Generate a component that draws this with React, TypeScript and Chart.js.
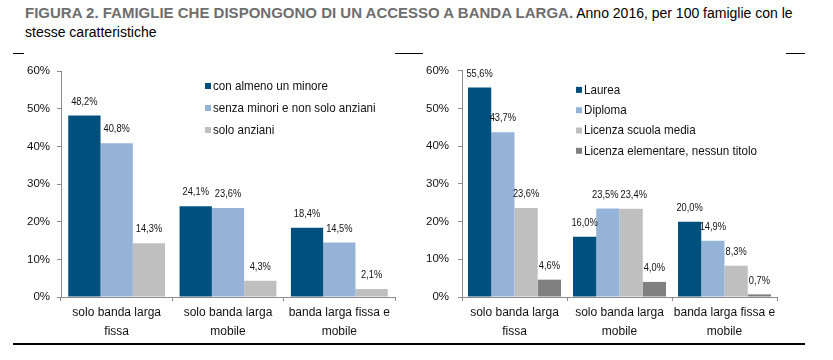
import React, { useEffect, useRef } from "react";
import { Chart, registerables } from "chart.js";

Chart.register(...registerables);

// ---------- DATA ----------
const categories: string[][] = [
  ["solo banda larga", "fissa"],
  ["solo banda larga", "mobile"],
  ["banda larga fissa e", "mobile"],
];

const leftSeriesNames = ["con almeno un minore", "senza minori e non solo anziani", "solo anziani"];
const leftMinore = [48.2, 24.1, 18.4];
const leftSenzaMinori = [40.8, 23.6, 14.5];
const leftSoloAnziani = [14.3, 4.3, 2.1];

const rightSeriesNames = ["Laurea", "Diploma", "Licenza scuola media", "Licenza elementare, nessun titolo"];
const rightLaurea = [55.6, 16.0, 20.0];
const rightDiploma = [43.7, 23.5, 14.9];
const rightMedia = [23.6, 23.4, 8.3];
const rightElementare = [4.6, 4.0, 0.7];

const yTicks = [0, 10, 20, 30, 40, 50, 60];

const COLORS = ["#00507D", "#95B3D7", "#BFBFBF", "#808080"];
const FONT = "'Liberation Sans', Arial, sans-serif";
const AXIS = "#8C8C8C";
const TEXT = "#111";

const fmt = (v: number) => v.toFixed(1).replace(".", ",") + "%";

// draw horizontally condensed text (reference uses a narrow face)
function narrowText(ctx: any, text: string, x: number, y: number, sx: number) {
  ctx.save();
  ctx.translate(x, y);
  ctx.scale(sx, 1);
  ctx.fillText(text, 0, 0);
  ctx.restore();
}

const LABEL_SX = 0.81;

const valueLabels = {
  id: "valueLabels",
  afterDatasetsDraw(chart: any) {
    const ctx = chart.ctx;
    ctx.save();
    ctx.font = `11.5px ${FONT}`;
    ctx.fillStyle = TEXT;
    ctx.textAlign = "center";
    ctx.textBaseline = "middle";
    const nCat = chart.data.labels.length;
    for (let j = 0; j < nCat; j++) {
      // collect labels of one category, then separate the ones that collide
      const items: { text: string; x: number; y: number; w: number }[] = [];
      chart.data.datasets.forEach((ds: any, i: number) => {
        const el = chart.getDatasetMeta(i).data[j];
        const text = fmt(ds.data[j]);
        items.push({ text, x: el.x, y: el.y - 14, w: ctx.measureText(text).width * LABEL_SX });
      });
      for (let k = 0; k < items.length - 1; k++) {
        const a = items[k];
        const b = items[k + 1];
        if (Math.abs(a.y - b.y) < 11) {
          const need = (a.w + b.w) / 2 + 2 - (b.x - a.x);
          if (need > 0) {
            a.x -= need / 2;
            b.x += need / 2;
          }
        }
      }
      items.forEach((it) => narrowText(ctx, it.text, it.x, it.y, LABEL_SX));
    }
    ctx.restore();
  },
};

const innerLegend = {
  id: "innerLegend",
  afterDraw(chart: any, _args: any, opts: any) {
    const ctx = chart.ctx;
    const area = chart.chartArea;
    ctx.save();
    ctx.font = `13.5px ${FONT}`;
    ctx.textBaseline = "middle";
    ctx.textAlign = "left";
    chart.data.datasets.forEach((ds: any, i: number) => {
      const x = area.left + opts.dx;
      const y = area.top + opts.dy + i * opts.step;
      ctx.fillStyle = ds.backgroundColor;
      ctx.fillRect(x, y - 3, 6, 6);
      ctx.fillStyle = TEXT;
      narrowText(ctx, ds.label, x + 8, y, 0.86);
    });
    ctx.restore();
  },
};

function makeConfig(
  names: string[],
  series: number[][],
  yWidth: number,
  pad: { top: number; right: number },
  tickPad: number,
  catPct: number,
  legend: { dx: number; dy: number; step: number }
): any {
  return {
    type: "bar",
    data: {
      labels: categories,
      datasets: series.map((d, i) => ({
        label: names[i],
        data: d,
        backgroundColor: COLORS[i],
        borderWidth: 0,
        categoryPercentage: catPct,
        barPercentage: 1,
      })),
    },
    options: {
      animation: false,
      responsive: false,
      maintainAspectRatio: false,
      layout: { padding: { left: 0, right: pad.right, top: pad.top, bottom: 0 } },
      plugins: {
        legend: { display: false },
        tooltip: { enabled: false },
        innerLegend: legend,
      },
      scales: {
        x: {
          grid: { drawOnChartArea: false, drawTicks: true, tickLength: 4, color: AXIS, offset: true },
          border: { display: true, color: AXIS, width: 1 },
          ticks: {
            color: TEXT,
            padding: 2.5,
            maxRotation: 0,
            autoSkip: false,
            font: { family: FONT, size: 12, lineHeight: 1.58 },
          },
          afterFit: (s: any) => {
            s.height = 48;
          },
        },
        y: {
          min: 0,
          max: 60,
          afterBuildTicks: (s: any) => {
            s.ticks = yTicks.map((v) => ({ value: v }));
          },
          grid: { drawOnChartArea: false, drawTicks: true, tickLength: 4, color: AXIS },
          border: { display: true, color: AXIS, width: 1 },
          ticks: {
            color: TEXT,
            padding: tickPad,
            font: { family: FONT, size: 11.5 },
            callback: (v: any) => v + "%",
          },
          afterFit: (s: any) => {
            s.width = yWidth;
          },
        },
      },
    },
    plugins: [valueLabels, innerLegend],
  };
}

function BarChart({ config, style }: { config: any; style: React.CSSProperties }) {
  const ref = useRef<HTMLCanvasElement | null>(null);
  useEffect(() => {
    if (!ref.current) return;
    const c = new Chart(ref.current, config);
    return () => c.destroy();
  }, []);
  return <canvas ref={ref} width={style.width as number} height={style.height as number} style={style} />;
}

const rule = (left: number, top: number, width: number): React.CSSProperties => ({
  position: "absolute",
  left,
  top,
  width,
  height: 1,
  background: "#000",
});

export default function App() {
  const leftCfg = makeConfig(
    leftSeriesNames,
    [leftMinore, leftSenzaMinori, leftSoloAnziani],
    61,
    { top: 16, right: 18 },
    7,
    0.87,
    { dx: 144, dy: 15, step: 22 }
  );
  const rightCfg = makeConfig(
    rightSeriesNames,
    [rightLaurea, rightDiploma, rightMedia, rightElementare],
    49,
    { top: 14, right: 56 },
    9,
    0.886,
    { dx: 114, dy: 19, step: 20.3 }
  );
  return (
    <div
      style={{
        position: "fixed",
        left: 0,
        top: 0,
        width: 833,
        height: 360,
        background: "#fff",
        overflow: "hidden",
        fontFamily: FONT,
      }}
    >
      <div
        style={{
          position: "absolute",
          left: 25,
          top: 3,
          fontSize: 14,
          lineHeight: "19px",
          whiteSpace: "nowrap",
          color: "#000",
        }}
      >
        <span style={{ fontWeight: "bold", color: "#6E6E6E", fontSize: 15 }}>
          FIGURA 2. FAMIGLIE CHE DISPONGONO DI UN ACCESSO A BANDA LARGA.
        </span>{" "}
        Anno 2016, per 100 famiglie con le
        <br />
        stesse caratteristiche
      </div>
      <BarChart config={leftCfg} style={{ position: "absolute", left: 0, top: 55, width: 413, height: 290 }} />
      <BarChart config={rightCfg} style={{ position: "absolute", left: 413, top: 55, width: 420, height: 290 }} />
      <div style={rule(13, 53, 11)} />
      <div style={rule(395, 53, 28)} />
      <div style={rule(786, 53, 19)} />
      <div style={{ ...rule(13, 343, 792), height: 1.5 }} />
    </div>
  );
}
